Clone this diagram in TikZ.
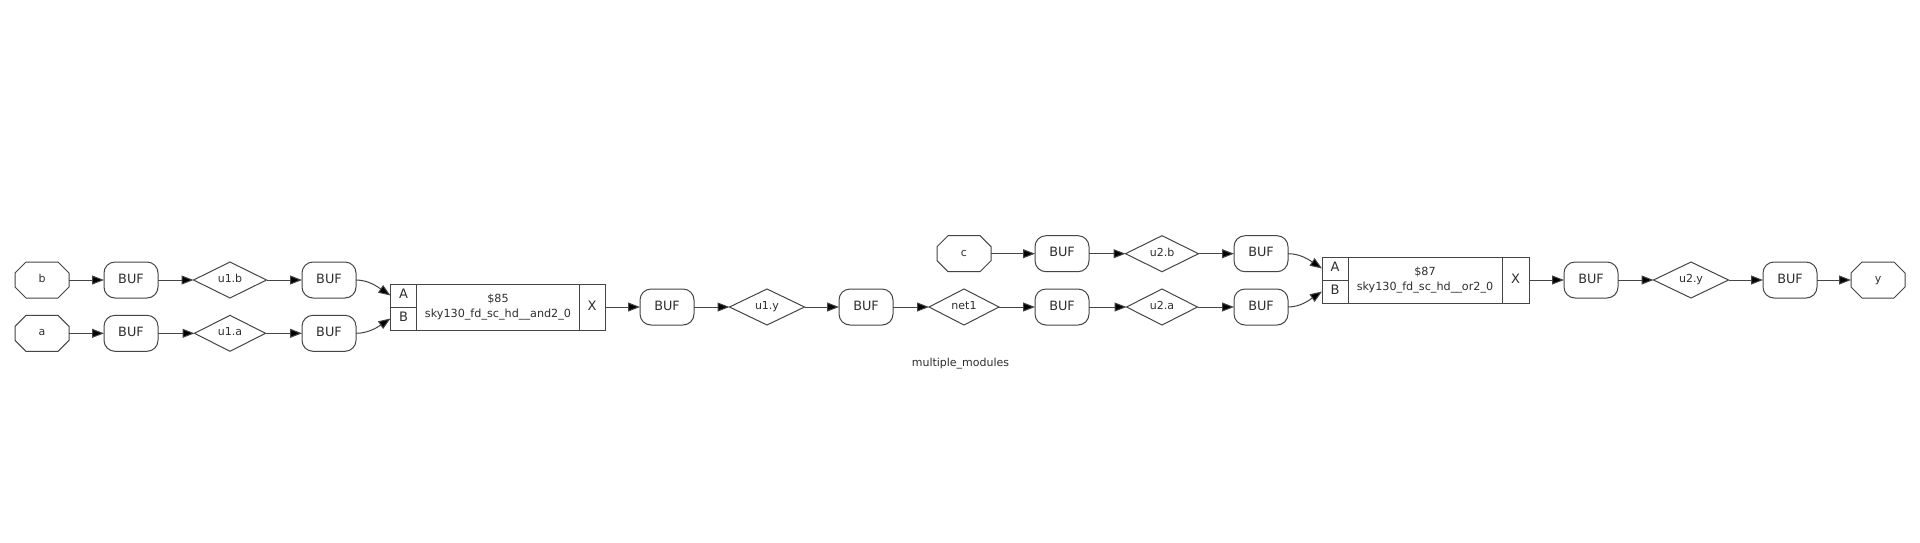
\documentclass[tikz,border=0pt]{standalone}
\usepackage{fontspec}
\setmainfont{DejaVu Sans}
\usetikzlibrary{arrows.meta,shapes.geometric}
\definecolor{ln}{HTML}{454545}
\definecolor{tx}{HTML}{2E2E2E}
\tikzset{
  every node/.style={text=tx,inner sep=0pt,outer sep=0pt},
  bufbox/.style={draw=ln,line width=1pt,rectangle,rounded corners=11pt,minimum width=54pt,minimum height=36pt,text height=10pt,text depth=3.5pt,font=\fontsize{12.8}{15}\selectfont},
  octbox/.style={rectangle,minimum width=54pt,minimum height=36pt,text height=9pt,text depth=4pt,font=\fontsize{11}{13}\selectfont},
  octline/.style={draw=ln,line width=1pt},
  netbox/.style={draw=ln,line width=1pt,diamond,aspect=2,minimum width=73pt,minimum height=36pt,text height=9pt,text depth=4pt,font=\fontsize{11}{13}\selectfont},
  cellbox/.style={draw=ln,line width=1pt,rectangle,font=\fontsize{11.2}{15}\selectfont,align=center},
  portbox/.style={draw=ln,line width=1pt,rectangle,text height=10pt,text depth=3.5pt,font=\fontsize{13}{15}\selectfont},
  wire/.style={draw=ln,line width=1pt,-{Triangle[length=12pt,width=9pt,fill=black]}},
  title/.style={font=\fontsize{11}{13}\selectfont},
}
\begin{document}
\begin{tikzpicture}[x=1pt,y=-1pt]
\useasboundingbox (0,0) rectangle (1920,542);
\fill[white] (0,0) rectangle (1920,542);
% row 1 left
\node[octbox] (b) at (42,280) {b};
\node[bufbox] (b1) at (131,280) {BUF};
\node[netbox] (u1b) at (230,280) {u1.b};
\node[bufbox] (b2) at (329,280) {BUF};
% row 2 left
\node[octbox] (a) at (42,333.3) {a};
\node[bufbox] (b3) at (131,333.3) {BUF};
\node[netbox,minimum width=71pt] (u1a) at (230,333.3) {u1.a};
\node[bufbox] (b4) at (329,333.3) {BUF};
% and cell
\node[portbox,minimum width=26pt,minimum height=23pt] (andA) at (403.5,295.5) {A};
\node[portbox,minimum width=26pt,minimum height=23pt] (andB) at (403.5,318.5) {B};
\node[cellbox,minimum width=163pt,minimum height=46pt] (andC) at (498,307) {\$85\\sky130\_fd\_sc\_hd\_\_and2\_0};
\node[portbox,minimum width=26pt,minimum height=46pt] (andX) at (592,307) {X};
% middle
\node[bufbox] (b5) at (667,307) {BUF};
\node[netbox,minimum width=75pt] (u1y) at (767,307) {u1.y};
\node[bufbox] (b6) at (866,307) {BUF};
\node[netbox,minimum width=70pt] (net1) at (964,307) {net1};
\node[bufbox] (b7) at (1062,307) {BUF};
\node[netbox,minimum width=71pt] (u2a) at (1162,307) {u2.a};
\node[bufbox] (b8) at (1261,307) {BUF};
% top row
\node[octbox] (c) at (964,253.7) {c};
\node[bufbox] (b9) at (1062,253.7) {BUF};
\node[netbox] (u2b) at (1162,253.7) {u2.b};
\node[bufbox] (b10) at (1261,253.7) {BUF};
% or cell
\node[portbox,minimum width=26pt,minimum height=23pt] (orA) at (1335,268.5) {A};
\node[portbox,minimum width=26pt,minimum height=23pt] (orB) at (1335,291.5) {B};
\node[cellbox,minimum width=154pt,minimum height=46pt] (orC) at (1425,280) {\$87\\sky130\_fd\_sc\_hd\_\_or2\_0};
\node[portbox,minimum width=27pt,minimum height=46pt] (orX) at (1515.5,280) {X};
% right
\node[bufbox] (b11) at (1591,280) {BUF};
\node[netbox,minimum width=75pt] (u2y) at (1691,280) {u2.y};
\node[bufbox] (b12) at (1790,280) {BUF};
\node[octbox] (y) at (1878,280) {y};
\node[title] (t) at (960.5,364) {multiple\_modules};
% octagon outlines
\foreach \n in {a,b,c,y}
  \draw[octline] (\n.center) +(-27,-7) -- +(-16,-18) -- +(16,-18) -- +(27,-7) -- +(27,7) -- +(16,18) -- +(-16,18) -- +(-27,7) -- cycle;
% wires
\foreach \p/\q in {b/b1,b1/u1b,u1b/b2,a/b3,b3/u1a,u1a/b4,andX/b5,b5/u1y,u1y/b6,b6/net1,net1/b7,b7/u2a,u2a/b8,c/b9,b9/u2b,u2b/b10,orX/b11,b11/u2y,u2y/b12,b12/y}
  \draw[wire] (\p.east) -- (\q.west);
\draw[wire] (b2.east) .. controls +(13,0) and +(-12,-8) .. (andA.west);
\draw[wire] (b4.east) .. controls +(13,0) and +(-12,8) .. (andB.west);
\draw[wire] (b10.east) .. controls +(13,0) and +(-12,-8) .. (orA.west);
\draw[wire] (b8.east) .. controls +(13,0) and +(-12,8) .. (orB.west);
\end{tikzpicture}
\end{document}
